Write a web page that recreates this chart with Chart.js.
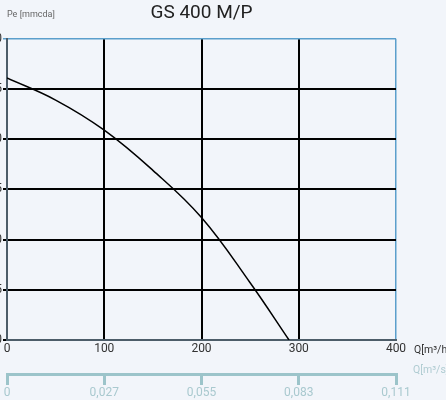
<!DOCTYPE html>
<html>
<head>
<meta charset="utf-8">
<script src="https://cdn.jsdelivr.net/npm/chart.js@4"></script>
<style>
  html, body { margin: 0; padding: 0; background: #f2f5fa; overflow: hidden; }
  #wrap { position: absolute; left: -20px; top: 0; width: 466px; height: 400px; }
</style>
</head>
<body>
<div id="wrap"><canvas id="chart"></canvas></div>
<script>
// ============ DONNEES ============
const flowM3h = [0, 50, 100, 150, 200, 250, 290];
const pressure = [26.1, 23.9, 20.9, 16.9, 12.2, 5.7, 0];
const yTicks = [0, 5, 10, 15, 20, 25, 30];
const xTicks = [0, 100, 200, 300, 400];
const m3sLabels = ['0', '0,027', '0,055', '0,083', '0,111'];

const SLATE = '#4d5d69';
const BLUE = '#5b9fcc';
const TEAL = '#9cc4ca';

// libellés des axes (Pe, Q)
const axisLabels = {
    id: 'axisLabels',
    afterDraw(chart) {
        const ctx = chart.ctx;
        const a = chart.chartArea;
        ctx.save();
        ctx.font = '9px Roboto';
        ctx.fillStyle = '#666';
        ctx.textBaseline = 'middle';
        ctx.textAlign = 'left';
        ctx.fillText('Pe [mmcda]', a.left, 15);
        ctx.font = '10.5px Roboto';
        ctx.fillStyle = '#333';
        ctx.fillText('Q[m³/h]', a.right + 18, a.bottom + 10);
        ctx.fillStyle = '#b0ccd2';
        ctx.fillText('Q[m³/s]', a.right + 17, a.bottom + 30);
        ctx.restore();
    }
};

new Chart(document.getElementById('chart'), {
    type: 'line',
    data: {
        datasets: [{
            data: flowM3h.map((q, i) => ({ x: q, y: pressure[i] })),
            borderColor: '#000',
            borderWidth: 1.5,
            pointRadius: 0,
            tension: 0.4,
            fill: false
        }]
    },
    options: {
        responsive: true,
        maintainAspectRatio: false,
        animation: false,
        layout: { padding: { top: 0, right: 50, bottom: 0, left: 0 } },
        plugins: {
            legend: { display: false },
            tooltip: { enabled: false },
            title: {
                display: true,
                text: 'GS 400 M/P',
                fullSize: false,
                color: '#222',
                font: { family: 'Roboto', size: 19, weight: 'normal' },
                padding: { top: 2, bottom: 14 }
            }
        },
        scales: {
            x: {
                type: 'linear',
                min: 0, max: 400,
                afterBuildTicks: s => { s.ticks = xTicks.map(v => ({ value: v })); },
                afterFit: s => { s.height = 34; },
                border: { display: true, color: SLATE, width: 2 },
                grid: {
                    color: c => c.tick.value === 400 ? BLUE : (c.tick.value === 0 ? SLATE : '#000'),
                    lineWidth: c => c.tick.value === 400 ? 1.5 : 2,
                    tickLength: 0
                },
                ticks: { color: '#333', font: { family: 'Roboto', size: 12 }, padding: 2, maxRotation: 0 }
            },
            x2: {
                type: 'linear',
                position: 'bottom',
                min: 0, max: 400,
                afterBuildTicks: s => { s.ticks = xTicks.map(v => ({ value: v })); },
                afterFit: s => { s.height = 26; },
                border: { display: true, color: TEAL, width: 3 },
                grid: { drawOnChartArea: false, color: TEAL, lineWidth: 3, tickLength: 11 },
                ticks: {
                    color: '#a9c9cf',
                    font: { family: 'Roboto', size: 12 },
                    padding: 1,
                    maxRotation: 0,
                    callback: (v, i) => m3sLabels[i]
                }
            },
            y: {
                min: 0, max: 30,
                afterBuildTicks: s => { s.ticks = yTicks.map(v => ({ value: v })); },
                afterFit: s => { s.width = 27; },
                border: { display: true, color: SLATE, width: 2 },
                grid: {
                    color: c => c.tick.value === 30 ? BLUE : '#000',
                    lineWidth: c => c.tick.value === 30 ? 1.5 : 2,
                    tickLength: 4
                },
                ticks: { color: '#333', font: { family: 'Roboto', size: 12 }, padding: 1 }
            }
        }
    },
    plugins: [axisLabels]
});
</script>
</body>
</html>
